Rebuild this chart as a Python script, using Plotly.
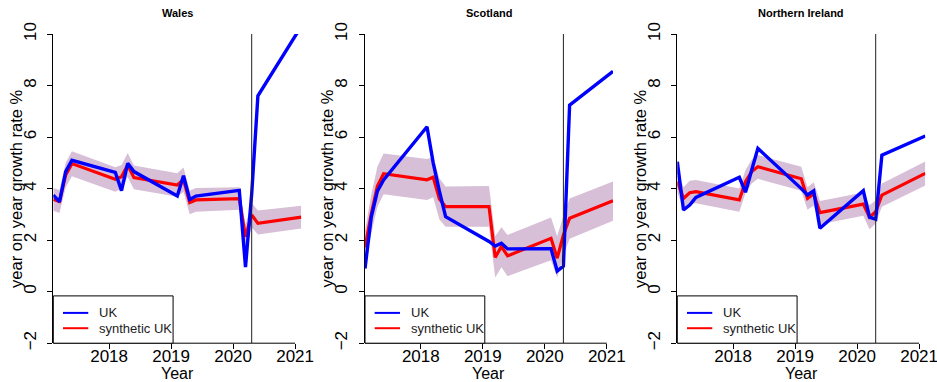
import plotly.graph_objects as go

# Quarterly time index: year + quarter/10
periods = [2017.1, 2017.2, 2017.3, 2017.4,
           2018.1, 2018.2, 2018.3, 2018.4,
           2019.1, 2019.2, 2019.3, 2019.4,
           2020.1, 2020.2, 2020.3, 2020.4,
           2021.1]

regions = ["Wales", "Scotland", "Northern Ireland"]

# Observed UK growth (year on year, %)
uk_wales = [3.75, 3.49, 4.66, 5.10, 4.63, 3.92, 4.98, 4.66, 3.71, 4.50, 3.58, 3.71, 3.93, 0.95, 3.80, 7.60, 10.30]
uk_scotland = [0.90, 2.88, 3.90, 4.34, 6.40, 5.00, 3.90, 2.91, 1.95, 1.77, 1.88, 1.66, 1.67, 0.80, 0.99, 7.24, 8.55]
uk_ni = [5.04, 3.17, 3.36, 3.66, 4.44, 3.86, 4.72, 5.56, 4.00, 3.75, 3.91, 2.46, 3.92, 2.89, 2.81, 5.30, 6.04]

# Synthetic UK estimates
syn_wales = [3.58, 3.50, 4.53, 4.97, 4.36, 4.46, 4.92, 4.43, 4.14, 4.35, 3.46, 3.56, 3.61, 2.13, 2.98, 2.65, 2.89]
syn_scotland = [1.72, 3.00, 4.10, 4.58, 4.34, 4.44, 3.60, 3.30, 3.30, 1.33, 1.75, 1.39, 2.07, 1.30, 2.20, 2.85, 3.53]
syn_ni = [4.27, 3.62, 3.84, 3.88, 3.56, 4.27, 4.66, 4.85, 4.38, 3.62, 3.79, 3.07, 3.40, 2.89, 3.10, 3.75, 4.59]

# Uncertainty band around the synthetic estimate
upper_wales = [4.02, 3.95, 5.00, 5.45, 4.83, 4.92, 5.38, 4.90, 4.60, 4.82, 3.92, 4.02, 4.05, 2.60, 3.45, 3.15, 3.33]
lower_wales = [3.14, 3.05, 4.05, 4.48, 3.88, 4.00, 4.45, 3.97, 3.68, 3.88, 3.00, 3.10, 3.18, 1.70, 2.50, 2.22, 2.45]
upper_scotland = [2.35, 3.75, 4.85, 5.36, 5.15, 5.22, 4.40, 4.08, 4.10, 2.15, 2.50, 2.20, 2.88, 2.15, 2.95, 3.62, 4.28]
lower_scotland = [1.20, 2.25, 3.30, 3.78, 3.56, 3.66, 2.80, 2.52, 2.52, 0.55, 0.95, 0.60, 1.22, 0.55, 1.40, 2.05, 2.75]
upper_ni = [4.70, 4.05, 4.30, 4.33, 4.00, 4.72, 5.12, 5.30, 4.85, 4.05, 4.25, 3.52, 3.85, 3.35, 3.55, 4.20, 5.05]
lower_ni = [3.85, 3.20, 3.40, 3.43, 3.10, 3.82, 4.20, 4.38, 3.92, 3.18, 3.34, 2.62, 2.95, 2.42, 2.65, 3.30, 4.12]

intervention = 2020.3
x_ticks = [2018, 2019, 2020, 2021]
y_ticks = [-2, 0, 2, 4, 6, 8, 10]
x_range = [2017.1, 2021.1]
y_range = [-2, 10]

series = [
    (uk_wales, syn_wales, upper_wales, lower_wales),
    (uk_scotland, syn_scotland, upper_scotland, lower_scotland),
    (uk_ni, syn_ni, upper_ni, lower_ni),
]

W, H = 937, 382
FONT = "Liberation Sans, Arial, Helvetica, sans-serif"
BAND = "rgb(215,191,215)"

# panel placement in pixels (left edge of each plotting region)
panel_left = [53.3, 365.0, 677.3]
panel_width = 248.0
plot_top, plot_bottom = 34.0, 343.2

fig = go.Figure()
layout = dict(
    width=W, height=H,
    margin=dict(l=0, r=0, t=0, b=0, autoexpand=False),
    paper_bgcolor="white", plot_bgcolor="white",
    showlegend=False,
    font=dict(family=FONT, color="black"),
    shapes=[], annotations=[],
)

ydom = [1 - plot_bottom / H, 1 - plot_top / H]

for i, (name, (uk, syn, up, lo)) in enumerate(zip(regions, series)):
    n = "" if i == 0 else str(i + 1)
    xa, ya = "x" + n, "y" + n
    x0 = panel_left[i] / W
    x1 = (panel_left[i] + panel_width) / W

    layout["xaxis" + n] = dict(
        domain=[x0, x1], range=x_range, anchor=ya, automargin=False,
        tickvals=x_ticks, ticktext=[str(t) for t in x_ticks],
        ticks="outside", ticklen=5, tickwidth=1, tickcolor="black",
        ticklabelstandoff=-8, ticklabeloverflow="allow",
        showline=False, showgrid=False, zeroline=False,
        tickfont=dict(size=17, family=FONT, color="black"),
    )
    layout["yaxis" + n] = dict(
        domain=ydom, range=y_range, anchor=xa, automargin=False,
        tickvals=y_ticks, ticks="outside", ticklen=5, tickwidth=1, tickcolor="black",
        showline=True, linecolor="black", linewidth=1, mirror=False,
        showgrid=False, zeroline=False, tickangle=-90,
        ticklabelstandoff=5,
        tickfont=dict(size=17, family=FONT, color="black"),
    )

    # uncertainty band
    fig.add_trace(go.Scatter(x=periods, y=up, mode="lines", line=dict(width=0),
                             hoverinfo="skip", xaxis=xa, yaxis=ya))
    fig.add_trace(go.Scatter(x=periods, y=lo, mode="lines", line=dict(width=0),
                             fill="tonexty", fillcolor=BAND,
                             hoverinfo="skip", xaxis=xa, yaxis=ya))
    # synthetic and observed series
    fig.add_trace(go.Scatter(x=periods, y=syn, mode="lines", name="synthetic UK",
                             line=dict(color="#ff0000", width=3.2), xaxis=xa, yaxis=ya))
    fig.add_trace(go.Scatter(x=periods, y=uk, mode="lines", name="UK",
                             line=dict(color="#0000ff", width=3.4), xaxis=xa, yaxis=ya))

    # intervention marker
    layout["shapes"].append(dict(type="line", xref=xa, yref=ya,
                                 x0=intervention, x1=intervention, y0=y_range[0], y1=y_range[1],
                                 line=dict(color="#222222", width=1), layer="above"))
    # bottom axis line from the left edge to the last tick
    end_frac = (x_ticks[-1] - x_range[0]) / (x_range[1] - x_range[0])
    layout["shapes"].append(dict(type="line", xref=xa + " domain", yref=ya + " domain",
                                 x0=0, x1=end_frac, y0=0, y1=0,
                                 line=dict(color="black", width=1), layer="above"))

    # legend box in the bottom-left corner
    lw, lh = 0.483, 0.153
    layout["shapes"].append(dict(type="rect", xref=xa + " domain", yref=ya + " domain",
                                 x0=0, x1=lw, y0=0, y1=lh,
                                 line=dict(color="black", width=1), fillcolor="white",
                                 layer="above"))
    for label, col, yy in [("UK", "#0000ff", 0.098), ("synthetic UK", "#ff0000", 0.0485)]:
        layout["shapes"].append(dict(type="line", xref=xa + " domain", yref=ya + " domain",
                                     x0=0.039, x1=0.141, y0=yy, y1=yy,
                                     line=dict(color=col, width=2), layer="above"))
        layout["annotations"].append(dict(text=label, xref=xa + " domain", yref=ya + " domain",
                                          x=0.178, y=yy, xanchor="left", yanchor="middle",
                                          showarrow=False,
                                          font=dict(size=13, family=FONT, color="#222222")))

    cx = (panel_left[i] + panel_width / 2) / W
    # panel title
    layout["annotations"].append(dict(text="<b>" + name + "</b>", xref="paper", yref="paper",
                                      x=cx, y=1 - 13 / H, xanchor="center", yanchor="middle",
                                      showarrow=False, font=dict(size=11, family=FONT, color="black")))
    # axis titles
    layout["annotations"].append(dict(text="Year", xref="paper", yref="paper",
                                      x=cx, y=0, xanchor="center", yanchor="bottom", yshift=-1,
                                      borderpad=0,
                                      showarrow=False, font=dict(size=16, family=FONT, color="black")))
    layout["annotations"].append(dict(text="year on year growth rate %", xref="paper", yref="paper",
                                      x=(panel_left[i] - 38) / W, y=(ydom[0] + ydom[1]) / 2,
                                      xanchor="center", yanchor="middle", textangle=-90,
                                      showarrow=False, font=dict(size=16.5, family=FONT, color="black")))

fig.update_layout(**layout)
fig.write_html("out.html")
